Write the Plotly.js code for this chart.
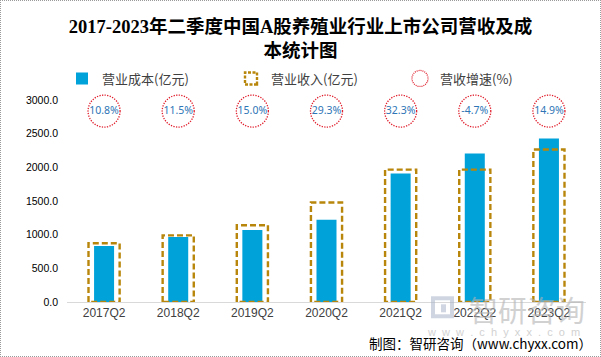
<!DOCTYPE html>
<html><head><meta charset="utf-8">
<script src="https://cdn.plot.ly/plotly-3.0.1.min.js"></script>
<style>
body{margin:0;background:#fff}
#wrap{position:relative;width:601px;height:357px}
#chart{width:601px;height:357px}
#frame{position:absolute;left:0;top:0;width:599px;height:355px;border:1px dotted #9a9a9a;pointer-events:none}
</style></head><body>
<div id="wrap"><div id="chart"></div><div id="frame"></div></div>
<script>
const categories = ['2017Q2','2018Q2','2019Q2','2020Q2','2021Q2','2022Q2','2023Q2'];
const costValues = [832, 965, 1070, 1220, 1907, 2205, 2430];
const revenueValues = [872, 990, 1140, 1478, 1966, 1966, 2265];
const growthRates = [10.8, 11.5, 15.0, 29.3, 32.3, -4.7, 14.9];
const yTickVals = [0, 500, 1000, 1500, 2000, 2500, 3000];

const growthLabels = growthRates.map(v => v.toFixed(1) + '%');
const bubbleLevel = 2835;

const traces = [
  {type:'bar', name:'营业成本(亿元)', x:categories, y:costValues, width:0.27,
   marker:{color:'#00A2DA'}},
  {type:'bar', name:'营业收入(亿元)', x:categories, y:revenueValues, width:0.42,
   marker:{color:'rgba(0,0,0,0)', line:{color:'#B8860B', width:2.4}}},
  {type:'scatter', mode:'markers+text', name:'营收增速(%)', x:categories,
   y:categories.map(() => bubbleLevel), text:growthLabels, textposition:'middle center',
   textfont:{family:'Noto Sans, sans-serif', size:10.5, color:'#2E75B6'},
   marker:{symbol:'circle-open', size:32, color:'#E0202E', line:{color:'#E0202E', width:1.3}},
   cliponaxis:false}
];

const layout = {
  width:601, height:357,
  margin:{l:67, r:15, t:100, b:55},
  paper_bgcolor:'#fff', plot_bgcolor:'#fff',
  barmode:'overlay',
  title:{text:'<b>2017-2023年二季度中国A股养殖业行业上市公司营收及成<br>本统计图</b>',
    font:{family:'Liberation Serif, Noto Sans CJK SC, serif', size:18.5, color:'#000'},
    x:0.5, xanchor:'center', y:1-33/357, yanchor:'top', yref:'container'},
  legend:{orientation:'h', xref:'container', yref:'container', x:62/601, y:1-78.5/357,
    xanchor:'left', yanchor:'middle', entrywidth:124, entrywidthmode:'pixels',
    font:{family:'Noto Sans CJK SC, sans-serif', size:13, color:'#404040'},
    bgcolor:'rgba(0,0,0,0)'},
  xaxis:{type:'category', range:[-0.5, 6.5], showline:true, linecolor:'#D9D9D9', linewidth:1,
    ticks:'', showgrid:false, zeroline:false,
    tickfont:{family:'Liberation Sans, sans-serif', size:12, color:'#404040'}},
  yaxis:{range:[0, 3000], tickvals:yTickVals, ticktext:yTickVals.map(v => v.toFixed(1)),
    showgrid:false, zeroline:false, showline:false, ticks:'', ticklabelstandoff:8,
    tickfont:{family:'Liberation Sans, sans-serif', size:10.5, color:'#000'}},
  shapes:[
    {type:'rect', xref:'paper', yref:'paper', x0:(433-67)/519, x1:(452-67)/519,
     y0:(301.7-316)/201.7, y1:(301.7-298)/201.7, line:{color:'#A9B6CC', width:4}, opacity:0.55, layer:'above'},
    {type:'rect', xref:'paper', yref:'paper', x0:(441-67)/519, x1:(446-67)/519,
     y0:(301.7-312)/201.7, y1:(301.7-304)/201.7, fillcolor:'#A9B6CC', line:{width:0}, opacity:0.55, layer:'above'}
  ],
  annotations:[
    {text:'智研咨询', xref:'paper', yref:'paper', x:(587-67)/519, y:(301.7-308.5)/201.7, xanchor:'right', yanchor:'middle',
     showarrow:false, font:{family:'Noto Sans CJK SC, sans-serif', size:29, color:'#B4B4B4'}, opacity:0.6},
    {text:'w  w  w  .  c  h  y  x  x  .  c  o  m', xref:'paper', yref:'paper', x:(582-67)/519, y:(301.7-332)/201.7, xanchor:'right', yanchor:'middle',
     showarrow:false, font:{family:'Liberation Sans, sans-serif', size:11, color:'#B4B4B4'}, opacity:0.6},
    {text:'制图：智研咨询（www.chyxx.com）', xref:'paper', yref:'paper', x:(594-67)/519, y:(301.7-343)/201.7,
     xanchor:'right', yanchor:'middle', showarrow:false,
     font:{family:'Noto Sans CJK SC, sans-serif', size:13.5, color:'#000'}}
  ],
  showlegend:true
};

Plotly.newPlot('chart', traces, layout, {displayModeBar:false, staticPlot:true}).then(gd => {
  const barTraces = gd.querySelectorAll('.barlayer .trace');
  if (barTraces[1]) barTraces[1].querySelectorAll('path').forEach(p => p.style.strokeDasharray = '6 3');
  gd.querySelectorAll('.scatterlayer .trace .points path').forEach(p => p.style.strokeDasharray = '1.3 1.3');
  const legTraces = gd.querySelectorAll('.legend .traces');
  if (legTraces[1]) legTraces[1].querySelectorAll('path').forEach(p => p.style.strokeDasharray = '3 1.5');
  if (legTraces[2]) legTraces[2].querySelectorAll('path').forEach(p => p.style.strokeDasharray = '1 1');
});
</script></body></html>
